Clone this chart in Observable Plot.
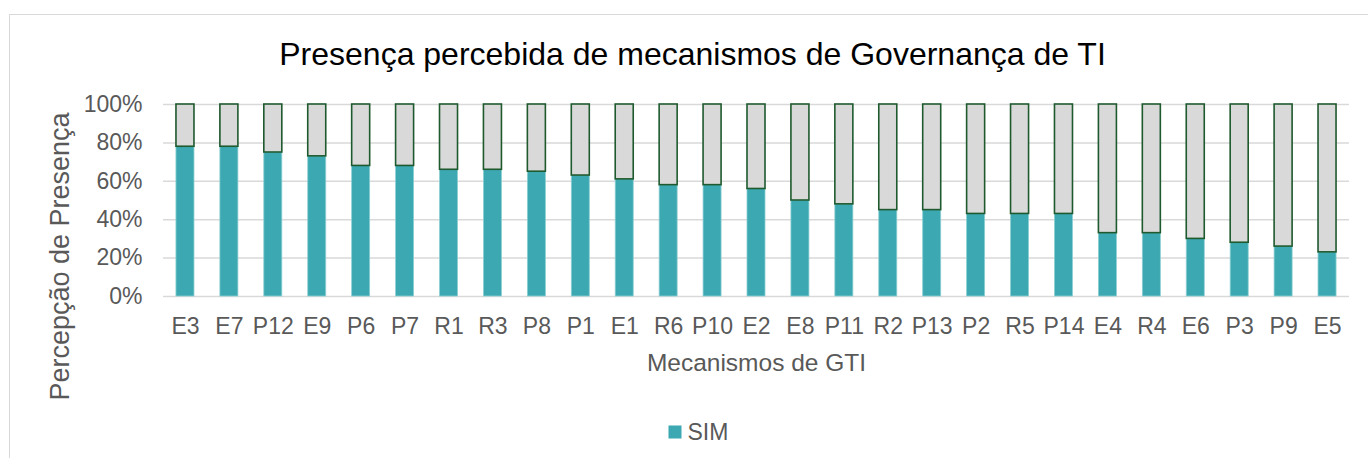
<!DOCTYPE html>
<html>
<head>
<meta charset="utf-8">
<script src="https://cdn.jsdelivr.net/npm/d3@7"></script>
<script src="https://cdn.jsdelivr.net/npm/@observablehq/plot@0.6"></script>
<style>
  html, body { margin: 0; padding: 0; background: #fff; overflow: hidden; }
  #wrap { position: relative; width: 1368px; height: 458px; overflow: hidden; }
  #border { position: absolute; left: 9px; top: 14px; width: 1400px; height: 500px; border: 1px solid #d9d9d9; box-sizing: border-box; }
  #chart { position: absolute; left: 0; top: 0; }
</style>
</head>
<body>
<div id="wrap">
  <div id="border"></div>
  <div id="chart"></div>
</div>
<script>
const categories = ["E3","E7","P12","E9","P6","P7","R1","R3","P8","P1","E1","R6","P10","E2","E8","P11","R2","P13","P2","R5","P14","E4","R4","E6","P3","P9","E5"];
const simValues = [0.78,0.78,0.75,0.73,0.68,0.68,0.66,0.66,0.65,0.63,0.61,0.58,0.58,0.56,0.50,0.48,0.45,0.45,0.43,0.43,0.43,0.33,0.33,0.30,0.28,0.26,0.23];
const yTicks = [0, 0.2, 0.4, 0.6, 0.8, 1];
const titleText = "Presença percebida de mecanismos de Governança de TI";
const xTitle = "Mecanismos de GTI";
const yTitle = "Percepção de Presença";
const legendLabel = "SIM";

const rows = categories.map((c, i) => ({cat: c, sim: simValues[i]}));
const font = "'Liberation Sans', Arial, sans-serif";
const grey = "#595959";

const chart = Plot.plot({
  width: 1368,
  height: 458,
  marginLeft: 163,
  marginRight: 19,
  marginTop: 104,
  marginBottom: 162,
  style: {fontFamily: font, background: "transparent", overflow: "visible"},
  x: {domain: categories, paddingInner: 0.59, paddingOuter: 0.295, round: false, label: null},
  y: {domain: [0, 1], label: null},
  marks: [
    Plot.ruleY(yTicks, {stroke: "#d9d9d9", strokeWidth: 1.5}),
    Plot.barY(rows, {x: "cat", y1: 0, y2: "sim", fill: "#3ca8b1", stroke: "#8ccfd3", strokeWidth: 0.8}),
    Plot.barY(rows, {x: "cat", y1: "sim", y2: 1, fill: "#d9d9d9", stroke: "#1e5a2e", strokeWidth: 1.6}),
    Plot.axisY(yTicks, {tickSize: 0, tickPadding: 21, tickFormat: d3.format(".0%"), fontSize: 23, fill: grey, label: null}),
    Plot.axisX({tickSize: 0, tickPadding: 21, fontSize: 23, fill: grey, label: null}),
    Plot.text([titleText], {frameAnchor: "top", text: d => d, dx: -64, dy: -50, fontSize: 32, fill: "#000", lineAnchor: "middle"}),
    Plot.text([xTitle], {frameAnchor: "bottom", text: d => d, dy: 67, fontSize: 24.5, fill: grey, lineAnchor: "middle"}),
    Plot.text([yTitle], {frameAnchor: "left", text: d => d, dx: -103, dy: 56, rotate: -90, fontSize: 27, fill: grey, textAnchor: "middle", lineAnchor: "middle"}),
    Plot.frame({fill: "#3ca8b1", stroke: null, insetLeft: 505, insetRight: 668, insetTop: 321, insetBottom: -142}),
    Plot.text([legendLabel], {frameAnchor: "bottom-left", text: d => d, dx: 524, dy: 136, fontSize: 23, fill: grey, textAnchor: "start", lineAnchor: "middle"})
  ]
});
document.getElementById("chart").appendChild(chart);
</script>
</body>
</html>
